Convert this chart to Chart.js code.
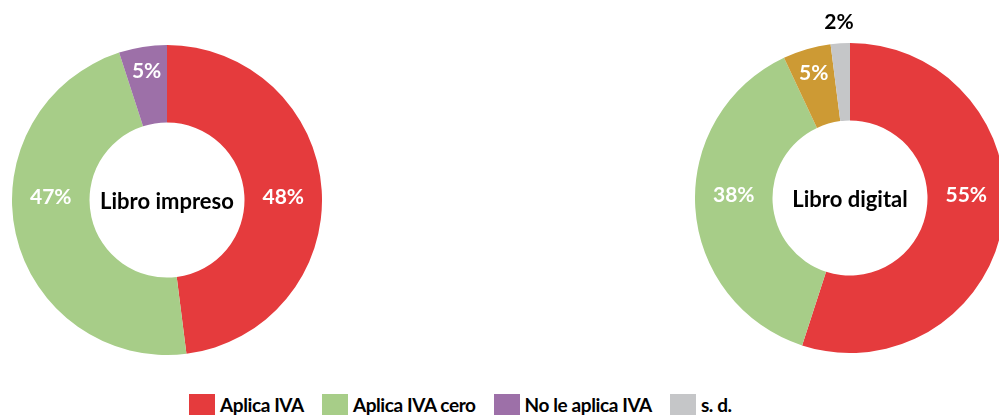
<!DOCTYPE html>
<html>
<head>
<meta charset="utf-8">
<script src="https://cdn.jsdelivr.net/npm/chart.js@4"></script>
<style>
  html, body { margin: 0; padding: 0; background: #fff; width: 999px; height: 415px; overflow: hidden; position: relative; }
  .box { position: absolute; }
  #legend { position: absolute; left: 189px; top: 393px; display: flex; align-items: center; font-family: Lato, sans-serif; font-weight: bold; font-size: 19px; letter-spacing: -0.4px; color: #000; }
  #legend .item { display: flex; align-items: center; margin-right: 18px; }
  #legend .sw { width: 26px; height: 21px; margin-right: 5px; }
</style>
</head>
<body>
<div class="box" style="left:12px;top:45px;width:310px;height:310px"><canvas id="impreso"></canvas></div>
<div class="box" style="left:695px;top:0px;width:310px;height:353px"><canvas id="digital"></canvas></div>
<div id="legend"></div>
<script>
// categories and values (percent)
var categories = ['Aplica IVA', 'Aplica IVA cero', 'No le aplica IVA', 's. d.'];
var impresoValues = [48, 47, 5, 0];
var digitalValues = [55, 38, 5, 2];
var titles = ['Libro impreso', 'Libro digital'];

var red = '#e53b3d', green = '#a7cd88', purple = '#9d70a8', orange = '#cd9a34', grey = '#c5c6c8';
var impresoColors = [red, green, purple, grey];
var digitalColors = [red, green, orange, grey];

// draws the % on each slice and the title in the hole
var sliceLabels = {
  id: 'sliceLabels',
  afterDatasetsDraw: function (chart) {
    var ctx = chart.ctx;
    var meta = chart.getDatasetMeta(0);
    var data = chart.data.datasets[0].data;
    ctx.save();
    ctx.textAlign = 'center';
    ctx.textBaseline = 'middle';
    meta.data.forEach(function (arc, i) {
      var v = data[i];
      if (!v) return;
      var p = arc.getProps(['x', 'y', 'startAngle', 'endAngle', 'innerRadius', 'outerRadius'], true);
      var ang, r, dy = 0, color = '#fff';
      if (v < 4) {
        ang = (p.startAngle + p.endAngle) / 2;
        r = p.outerRadius + 21;
        color = '#000';
      } else if (v < 10) {
        ang = (p.startAngle + p.endAngle) / 2;
        r = p.innerRadius + 0.68 * (p.outerRadius - p.innerRadius);
      } else {
        ang = (p.startAngle <= 0 && p.endAngle >= 0) ? 0 : Math.PI;
        r = (p.innerRadius + p.outerRadius) / 2;
        dy = -3;
      }
      ctx.fillStyle = color;
      ctx.font = 'bold 21px Lato';
      ctx.fillText(v + '%', p.x + r * Math.cos(ang), p.y + r * Math.sin(ang) + dy);
    });
    var a = meta.data[0];
    ctx.fillStyle = '#000';
    ctx.font = 'bold 22px Lato';
    ctx.fillText(chart.options.plugins.centerTitle, a.x, a.y + 2);
    ctx.restore();
  }
};

function donut(id, values, colors, title, padTop) {
  return new Chart(document.getElementById(id), {
    type: 'doughnut',
    data: {
      labels: categories,
      datasets: [{
        data: values,
        backgroundColor: colors,
        borderWidth: 0,
        hoverOffset: 0
      }]
    },
    options: {
      responsive: true,
      maintainAspectRatio: false,
      animation: false,
      cutout: '50%',
      layout: { padding: { top: padTop } },
      plugins: {
        legend: { display: false },
        tooltip: { enabled: false },
        centerTitle: title
      },
      events: []
    },
    plugins: [sliceLabels]
  });
}

donut('impreso', impresoValues, impresoColors, titles[0], 0);
donut('digital', digitalValues, digitalColors, titles[1], 43);

var legendColors = [red, green, purple, grey];
var lg = document.getElementById('legend');
categories.forEach(function (c, i) {
  var it = document.createElement('div');
  it.className = 'item';
  it.innerHTML = '<span class="sw" style="background:' + legendColors[i] + '"></span><span>' + c + '</span>';
  lg.appendChild(it);
});
</script>
</body>
</html>
